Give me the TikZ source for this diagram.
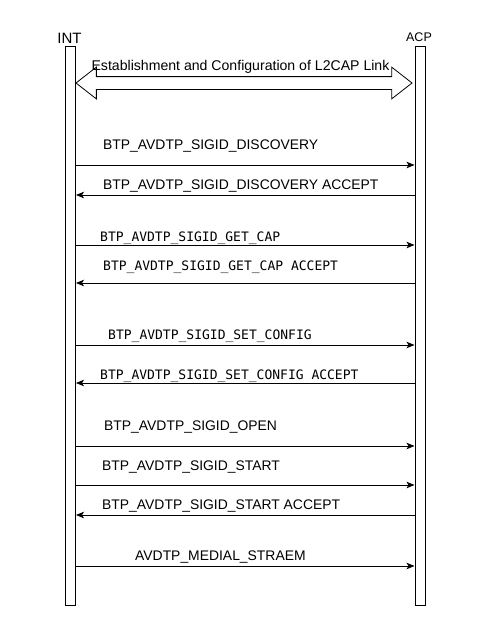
\documentclass[tikz,border=0pt]{standalone}
\usepackage{fontspec}
\setmainfont{Liberation Sans}
\newfontfamily\monofont{DejaVu Sans Mono}
\usetikzlibrary{arrows.meta,shapes.arrows}

\begin{document}
\begin{tikzpicture}[x=1pt,y=-1pt,
  lifeline/.style={draw,line width=1pt,minimum width=10pt,minimum height=559pt,inner sep=0pt,anchor=north},
  sig/.style={-{Stealth[length=8pt,width=6.5pt,inset=2pt]},line width=0.8pt},
  msg/.style={anchor=base west,inner sep=0pt,font=\fontsize{13.9}{16}\selectfont},
  code/.style={anchor=base west,inner sep=0pt,font=\monofont\fontsize{13}{15}\selectfont}]

\useasboundingbox (0,0) rectangle (491,621);

\node[lifeline] (intbar) at (70.5,46) {};
\node[lifeline] (acpbar) at (420,46) {};
\node[anchor=base,inner sep=0pt,font=\fontsize{15}{18}\selectfont] (int) at (69.5,43.3) {INT};
\node[anchor=base,inner sep=0pt,font=\fontsize{12.5}{14}\selectfont] (acp) at (419,41.7) {ACP};

\node[double arrow,draw,line width=0.8pt,minimum height=336pt,minimum width=31pt,
  text height=12pt,text depth=0pt,double arrow head extend=9.5pt,double arrow tip angle=76,
  inner sep=0pt] (link) at (244,83) {};
\node[msg,anchor=base,font=\fontsize{14.1}{16}\selectfont] (linktext) at (240.5,70.5) {Establishment and Configuration of L2CAP Link};

\node[msg] (discover) at (103,149.5) {BTP\_AVDTP\_SIGID\_DISCOVERY};
\node[msg] (discoverok) at (103,189.5) {BTP\_AVDTP\_SIGID\_DISCOVERY ACCEPT};
\node[code] (getcap) at (100,241.7) {BTP\_AVDTP\_SIGID\_GET\_CAP};
\node[code] (getcapok) at (103,270) {BTP\_AVDTP\_SIGID\_GET\_CAP ACCEPT};
\node[code] (setconf) at (108,339.5) {BTP\_AVDTP\_SIGID\_SET\_CONFIG};
\node[code] (setconfok) at (100,379) {BTP\_AVDTP\_SIGID\_SET\_CONFIG ACCEPT};
\node[msg] (open) at (104,430.5) {BTP\_AVDTP\_SIGID\_OPEN};
\node[msg] (start) at (102,470) {BTP\_AVDTP\_SIGID\_START};
\node[msg] (startok) at (102,509.5) {BTP\_AVDTP\_SIGID\_START ACCEPT};
\node[msg] (stream) at (135,560.5) {AVDTP\_MEDIAL\_STRAEM};

\path[sig] (intbar.east |- 0,165) edge (acpbar.west |- 0,165)
  (acpbar.west |- 0,195) edge (intbar.east |- 0,195)
  (intbar.east |- 0,245) edge (acpbar.west |- 0,245)
  (acpbar.west |- 0,283) edge (intbar.east |- 0,283)
  (intbar.east |- 0,345) edge (acpbar.west |- 0,345)
  (acpbar.west |- 0,383) edge (intbar.east |- 0,383)
  (intbar.east |- 0,446) edge (acpbar.west |- 0,446)
  (intbar.east |- 0,485) edge (acpbar.west |- 0,485)
  (acpbar.west |- 0,515) edge (intbar.east |- 0,515)
  (intbar.east |- 0,566) edge (acpbar.west |- 0,566);

\end{tikzpicture}
\end{document}
